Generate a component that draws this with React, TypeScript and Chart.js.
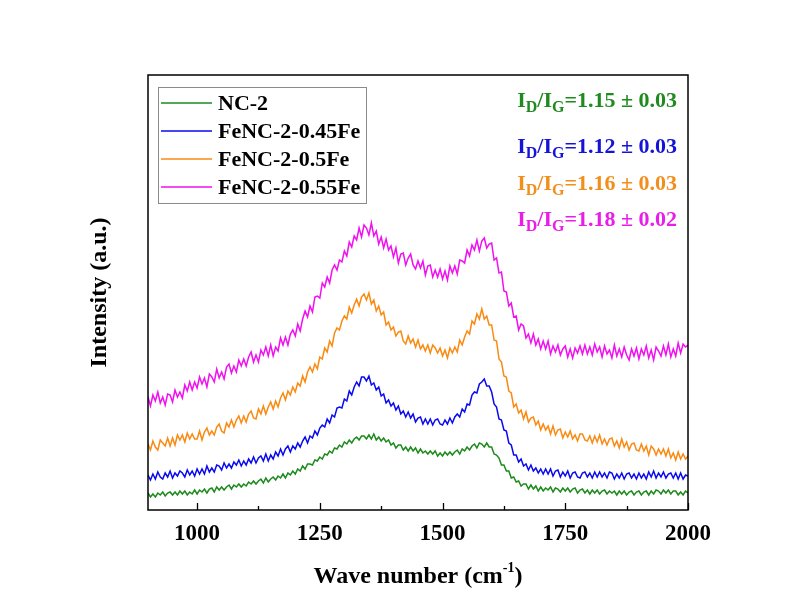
import React, { useEffect, useRef } from "react";
import { Chart, registerables } from "chart.js";

Chart.register(...registerables);

// Sampling grid of the spectra (cm^-1)
const WN_START = 900;
const WN_STEP = 5;
const X_MIN = 900;
const X_MAX = 2000;
const Y_MIN = 0;
const Y_MAX = 435;
const MAJOR_TICKS = [1000, 1250, 1500, 1750, 2000];
const MINOR_TICKS = [1125, 1375, 1625, 1875];

const SERIES_NAMES = ["NC-2", "FeNC-2-0.45Fe", "FeNC-2-0.5Fe", "FeNC-2-0.55Fe"];
const LINE_COLORS = ["#1b8a1b", "#0a0aee", "#f98a12", "#f010f0"];
const TEXT_COLORS = ["#1f8b1f", "#1414d6", "#f28e1c", "#e81ee8"];
const RATIO_TEXTS = ["1.15 \u00b1 0.03", "1.12 \u00b1 0.03", "1.16 \u00b1 0.03", "1.18 \u00b1 0.02"];

// Intensities (a.u.), one value per 5 cm^-1 from 900 to 2000
const NC2 = [
  17, 13, 16, 13, 17, 15, 18, 14, 17, 18, 15, 18, 15, 19, 16, 19, 15, 18, 16, 20,
  16, 20, 18, 21, 17, 21, 22, 18, 23, 20, 23, 20, 23, 25, 21, 25, 23, 26, 23, 26,
  24, 28, 26, 29, 26, 29, 31, 27, 32, 28, 31, 33, 30, 34, 32, 36, 32, 37, 35, 39,
  36, 41, 39, 44, 41, 46, 46, 45, 50, 49, 53, 51, 56, 55, 59, 57, 62, 61, 65, 63,
  68, 66, 70, 67, 71, 73, 70, 74, 74, 71, 75, 71, 76, 70, 73, 69, 72, 68, 70, 65,
  67, 62, 65, 65, 60, 63, 59, 63, 59, 62, 57, 61, 57, 59, 56, 59, 56, 59, 54, 57,
  54, 58, 55, 58, 55, 58, 60, 56, 61, 59, 63, 60, 64, 66, 62, 67, 66, 63, 67, 63,
  63, 56, 55, 52, 45, 45, 39, 39, 32, 33, 28, 29, 24, 26, 26, 21, 25, 21, 24, 19,
  23, 19, 22, 20, 23, 18, 22, 21, 18, 22, 19, 22, 18, 21, 22, 17, 20, 21, 17, 20,
  16, 20, 17, 20, 16, 19, 20, 16, 19, 17, 19, 15, 19, 16, 19, 15, 18, 19, 15, 18,
  19, 15, 18, 19, 15, 19, 16, 20, 19, 16, 20, 17, 20, 16, 19, 19, 15, 18, 15, 19,
  17,
];

const FENC_045 = [
  35, 30, 36, 31, 38, 33, 31, 37, 33, 39, 32, 37, 34, 39, 37, 33, 40, 35, 39, 34,
  41, 36, 41, 36, 44, 38, 42, 38, 45, 44, 40, 47, 42, 46, 42, 48, 45, 50, 44, 49,
  45, 51, 47, 53, 47, 52, 54, 49, 56, 49, 55, 51, 58, 54, 61, 55, 61, 64, 58, 64,
  61, 67, 63, 69, 73, 67, 74, 72, 79, 75, 82, 85, 83, 91, 87, 95, 93, 102, 103, 102,
  111, 109, 119, 115, 123, 128, 124, 133, 133, 129, 134, 125, 127, 120, 123, 114, 116, 107, 110, 104,
  107, 100, 104, 96, 99, 93, 98, 92, 96, 88, 92, 93, 86, 91, 86, 91, 85, 90, 91, 86,
  85, 90, 86, 92, 87, 93, 96, 93, 101, 98, 106, 105, 115, 118, 117, 126, 128, 131, 124, 124,
  118, 106, 103, 91, 90, 80, 79, 67, 65, 55, 55, 48, 51, 44, 46, 40, 45, 39, 42, 37,
  41, 36, 41, 36, 41, 34, 39, 40, 33, 38, 34, 39, 32, 37, 38, 33, 32, 37, 38, 33,
  37, 32, 38, 33, 38, 33, 37, 32, 38, 37, 31, 36, 32, 37, 31, 36, 37, 32, 36, 31,
  37, 32, 36, 31, 38, 33, 39, 32, 37, 33, 38, 32, 36, 37, 32, 37, 31, 37, 31, 35,
  34,
];

const FENC_05 = [
  66, 60, 69, 63, 60, 70, 67, 64, 72, 64, 72, 65, 75, 70, 75, 68, 77, 71, 76, 71,
  71, 79, 70, 78, 82, 75, 79, 75, 83, 86, 79, 77, 87, 83, 90, 83, 90, 94, 87, 94,
  88, 96, 99, 92, 91, 101, 96, 104, 96, 103, 108, 101, 109, 103, 112, 117, 110, 119, 115, 123,
  118, 127, 124, 134, 128, 138, 143, 138, 146, 141, 153, 151, 162, 158, 169, 164, 177, 182, 180, 189,
  194, 191, 203, 197, 205, 211, 204, 213, 216, 210, 217, 206, 210, 199, 204, 195, 198, 185, 188, 180,
  183, 174, 178, 179, 169, 166, 174, 167, 171, 163, 170, 161, 165, 159, 165, 157, 165, 162, 157, 162,
  154, 160, 152, 162, 157, 163, 158, 170, 165, 173, 179, 176, 189, 186, 196, 191, 201, 191, 194, 185,
  185, 170, 169, 151, 148, 134, 133, 119, 117, 103, 106, 97, 100, 91, 98, 88, 92, 93, 85, 89,
  80, 86, 80, 84, 76, 84, 75, 80, 81, 72, 78, 73, 79, 71, 75, 69, 76, 76, 70, 69,
  74, 67, 74, 68, 75, 66, 71, 65, 71, 72, 64, 69, 62, 71, 63, 68, 60, 66, 67, 60,
  59, 66, 59, 64, 55, 64, 61, 55, 61, 56, 61, 54, 61, 52, 57, 50, 58, 51, 56, 51,
  54,
];

const FENC_055 = [
  113, 104, 115, 109, 118, 107, 113, 105, 116, 115, 108, 120, 113, 118, 112, 125, 119, 128, 120, 128,
  122, 133, 126, 132, 123, 136, 133, 128, 141, 132, 138, 131, 143, 146, 137, 144, 138, 150, 144, 151,
  144, 153, 158, 148, 155, 148, 160, 155, 163, 154, 165, 154, 163, 159, 172, 165, 173, 165, 176, 180,
  174, 186, 179, 191, 199, 193, 204, 198, 213, 214, 212, 227, 223, 233, 227, 240, 245, 240, 250, 248,
  259, 254, 268, 263, 274, 270, 282, 273, 285, 282, 275, 287, 274, 279, 266, 273, 262, 271, 260, 264,
  253, 262, 247, 256, 257, 245, 252, 256, 245, 241, 249, 242, 249, 235, 244, 245, 233, 240, 233, 241,
  231, 239, 230, 244, 237, 244, 236, 250, 249, 247, 260, 254, 265, 260, 270, 259, 269, 272, 262, 266,
  267, 250, 252, 237, 238, 219, 218, 204, 207, 193, 194, 180, 186, 184, 172, 176, 167, 176, 165, 171,
  161, 169, 161, 169, 156, 164, 158, 165, 155, 161, 164, 153, 161, 152, 162, 157, 164, 156, 165, 156,
  163, 155, 166, 158, 163, 153, 164, 156, 160, 152, 165, 154, 161, 153, 163, 155, 150, 161, 154, 162,
  151, 161, 155, 164, 152, 160, 150, 163, 159, 154, 164, 155, 166, 153, 161, 154, 167, 157, 166, 163,
  165,
];

const SERIES = [NC2, FENC_045, FENC_05, FENC_055];

const FONT = "'Liberation Serif', 'Times New Roman', serif";

const decorPlugin = {
  id: "decor",
  afterDraw(chart: any) {
    const ctx: CanvasRenderingContext2D = chart.ctx;
    const { left, right, top, bottom } = chart.chartArea;
    const xs = chart.scales.x;
    ctx.save();

    // frame
    ctx.strokeStyle = "#000";
    ctx.lineWidth = 1.5;
    ctx.strokeRect(left, top, right - left, bottom - top);

    // inward ticks on bottom axis
    ctx.lineWidth = 1.3;
    ctx.beginPath();
    MAJOR_TICKS.forEach((v) => {
      const px = Math.round(xs.getPixelForValue(v)) + 0.5;
      ctx.moveTo(px, bottom);
      ctx.lineTo(px, bottom - 7);
    });
    MINOR_TICKS.forEach((v) => {
      const px = Math.round(xs.getPixelForValue(v)) + 0.5;
      ctx.moveTo(px, bottom);
      ctx.lineTo(px, bottom - 4);
    });
    ctx.stroke();

    // legend box
    const lx = 158, ly = 87, lw = 208, lh = 116;
    ctx.strokeStyle = "#8a8a8a";
    ctx.lineWidth = 1;
    ctx.strokeRect(lx + 0.5, ly + 0.5, lw, lh);
    SERIES_NAMES.forEach((name, i) => {
      const cy = 103 + i * 28;
      ctx.strokeStyle = LINE_COLORS[i];
      ctx.lineWidth = 1.5;
      ctx.beginPath();
      ctx.moveTo(161, cy);
      ctx.lineTo(212, cy);
      ctx.stroke();
      ctx.fillStyle = "#000";
      ctx.font = `bold 22px ${FONT}`;
      ctx.textBaseline = "middle";
      ctx.textAlign = "left";
      ctx.fillText(name, 218, cy + 1);
    });

    // I_D/I_G annotations
    const rowsY = [101, 147, 184, 220];
    RATIO_TEXTS.forEach((txt, i) => {
      const big = `bold 22px ${FONT}`;
      const small = `bold 16px ${FONT}`;
      const parts: [string, string, number][] = [
        ["I", big, 0],
        ["D", small, 7],
        ["/I", big, 0],
        ["G", small, 7],
        ["=" + txt, big, 0],
      ];
      let total = 0;
      parts.forEach(([t, f]) => {
        ctx.font = f;
        total += ctx.measureText(t).width;
      });
      let x = 677 - total;
      ctx.fillStyle = TEXT_COLORS[i];
      ctx.textBaseline = "middle";
      ctx.textAlign = "left";
      parts.forEach(([t, f, dy]) => {
        ctx.font = f;
        ctx.fillText(t, x, rowsY[i] + dy);
        x += ctx.measureText(t).width;
      });
    });

    // x title with superscript
    ctx.fillStyle = "#000";
    const tBig = `bold 24px ${FONT}`;
    const tSmall = `bold 14px ${FONT}`;
    const xParts: [string, string, number][] = [
      ["Wave number (cm", tBig, 0],
      ["-1", tSmall, -9],
      [")", tBig, 0],
    ];
    let tw = 0;
    xParts.forEach(([t, f]) => {
      ctx.font = f;
      tw += ctx.measureText(t).width;
    });
    let tx = (left + right) / 2 - tw / 2;
    ctx.textBaseline = "middle";
    xParts.forEach(([t, f, dy]) => {
      ctx.font = f;
      ctx.fillText(t, tx, 577 + dy);
      tx += ctx.measureText(t).width;
    });

    // y title
    ctx.translate(100, (top + bottom) / 2);
    ctx.rotate(-Math.PI / 2);
    ctx.font = `bold 24px ${FONT}`;
    ctx.textAlign = "center";
    ctx.textBaseline = "middle";
    ctx.fillText("Intensity (a.u.)", 0, 0);

    ctx.restore();
  },
};

export default function App() {
  const ref = useRef<HTMLCanvasElement>(null);

  useEffect(() => {
    if (!ref.current) return;
    const chart = new Chart(ref.current, {
      type: "line",
      data: {
        datasets: SERIES.map((vals, i) => ({
          label: SERIES_NAMES[i],
          data: vals.map((v, k) => ({ x: WN_START + k * WN_STEP, y: v })),
          borderColor: LINE_COLORS[i],
          backgroundColor: LINE_COLORS[i],
          borderWidth: 1.5,
          pointRadius: 0,
          tension: 0,
          fill: false,
        })),
      },
      options: {
        responsive: false,
        animation: false,
        layout: { padding: { left: 0, right: 99, top: 75, bottom: 0 } },
        plugins: {
          legend: { display: false },
          tooltip: { enabled: false },
          title: { display: false },
        },
        scales: {
          x: {
            type: "linear",
            min: X_MIN,
            max: X_MAX,
            grid: { display: false, drawTicks: false },
            border: { display: false },
            afterBuildTicks: (s: any) => {
              s.ticks = MAJOR_TICKS.map((v) => ({ value: v }));
            },
            afterFit: (s: any) => {
              s.height = 92;
            },
            ticks: {
              color: "#000",
              padding: 10,
              maxRotation: 0,
              autoSkip: false,
              font: { family: FONT, size: 23, weight: "bold" },
              callback: (v: any) => String(v),
            },
          },
          y: {
            type: "linear",
            min: Y_MIN,
            max: Y_MAX,
            grid: { display: false, drawTicks: false },
            border: { display: false },
            ticks: { display: false },
            afterFit: (s: any) => {
              s.width = 148;
            },
          },
        },
      },
      plugins: [decorPlugin],
    } as any);
    return () => chart.destroy();
  }, []);

  return (
    <div style={{ position: "fixed", left: 0, top: 0, width: 787, height: 602, background: "#fff" }}>
      <canvas ref={ref} width={787} height={602} style={{ width: 787, height: 602, display: "block" }} />
    </div>
  );
}
